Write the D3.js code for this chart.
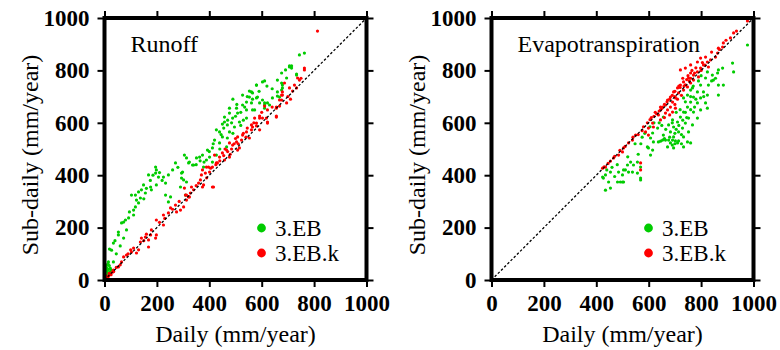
<!DOCTYPE html>
<html>
<head>
<meta charset="utf-8">
<script src="https://cdn.jsdelivr.net/npm/d3@7"></script>
<style>
  html, body { margin: 0; padding: 0; background: #fff; }
  svg { display: block; }
</style>
</head>
<body>
<svg id="chart" width="780" height="350"></svg>
<script>
// Axis ticks shared by both panels (mm/year)
const tickValues = [0, 200, 400, 600, 800, 1000];
const seriesNames = ["3.EB", "3.EB.k"];
const panelTitles = ["Runoff", "Evapotranspiration"];

// Runoff, 3.EB: [daily, sub-daily]
const runoffEB = [
  [5,20],[8,35],[10,45],[12,28],[15,40],[18,55],[20,30],[6,50],[14,60],[22,45],[3,15],[25,38],[10,12],[17,22],[9,58],[4,42],
  [15,69],[34,69],[19,118],[27,114],[34,141],[53,183],[53,172],[84,191],[73,160],[65,218],[80,229],[111,248],[118,279],
  [130,294],[137,313],[122,305],[118,324],[103,324],[130,336],[141,344],[156,332],[149,363],[176,355],[168,401],[195,408],
  [198,420],[206,393],[198,363],[179,344],[225,393],[244,401],[233,370],[233,324],[252,317],[244,298],[271,447],[290,355],
  [302,382],[294,408],[313,374],[321,447],[340,439],[195,431],[111,267],[92,237],[73,221],[309,324],[378,431],
  [706,813],[714,817],[676,790],[733,782],[695,771],[603,756],[580,744],[561,718],[527,706],[553,698],[584,698],[542,679],
  [561,676],[527,668],[504,656],[477,656],[477,637],[508,637],[542,649],[573,649],[489,618],[515,603],[542,618],[458,622],
  [458,603],[469,592],[496,584],[427,573],[439,565],[477,565],[450,546],[420,534],[469,542],[439,523],[466,508],[412,504],
  [393,496],[374,477],[363,469],[351,466],[401,469],[427,477],[389,458],[412,450],[313,466],[324,450],[336,439],[305,477],
  [298,412],[294,389],[592,676],[611,668],[622,676],[668,698],[679,733],[676,752],[660,718],
  [763,866],[744,859],[706,817],[714,809],[691,802],[733,786],[660,763],[611,760],[580,744],[679,744],[553,721],[565,714],
  [676,725],[660,702],[580,695],[603,687],[641,695],[630,668],[611,676],[565,649],[611,656],
  [485,600],[500,625],[520,640],[535,660],[455,580],[445,555],[490,560],[520,590],[530,610],[400,490],[415,520],[440,500],
  [380,450],[365,455],[350,440],[505,670],[490,690],[470,610],[450,595],[545,700],[565,690],[590,720],[620,740],[640,730],
  [150,310],[160,350],[175,380],[185,400],[210,410],[220,380],[260,420],[280,430],[60,130],[45,100],[40,150],[95,260]
];

// Runoff, 3.EB.k: [daily, sub-daily]
const runoffEBk = [
  [5,5],[10,12],[15,14],[20,22],[25,20],[12,8],[30,30],[18,25],[8,15],[35,32],
  [34,38],[53,50],[65,69],[73,88],[84,95],[103,107],[111,122],[122,103],[130,115],[137,145],[141,160],[156,164],[168,153],
  [176,172],[195,160],[198,172],[179,191],[168,126],[198,229],[225,210],[225,248],[244,256],[252,275],[271,286],[275,260],
  [290,267],[302,279],[313,305],[321,317],[309,324],[328,332],[340,344],[359,370],[378,363],[366,382],[385,408],[405,427],
  [416,355],[397,431],[427,447],
  [763,809],[737,771],[725,744],[679,718],[676,706],[668,687],[656,660],[622,603],[618,618],[656,622],[592,618],[580,599],
  [565,584],[561,573],[542,565],[553,542],[527,553],[523,534],[508,546],[504,527],[489,515],[477,523],[515,504],[508,496],
  [466,496],[450,485],[439,469],[477,469],[420,477],[458,458],[431,447],[412,431],[389,431],[374,420],[401,412],[370,401],
  [412,355],[374,355],[332,355],[305,351],[313,324],[324,317],[592,573],
  [813,950],[763,802],[744,763],[733,733],[706,733],[718,721],[687,752],[679,706],[676,687],[695,676],[668,664],[656,656],
  [656,626],[622,649],[611,664],[622,599],[603,618],[592,626],[573,618],[580,588],[561,592],
  [455,475],[470,490],[485,500],[495,520],[530,560],[545,580],[500,540],[440,455],[425,440],[460,500],[480,480],[510,520],
  [540,545],[570,600],[600,640],[640,660],[700,700],[710,690],[750,770],[90,100],[100,115],[150,150],[160,175],[210,220],
  [230,235],[260,270],[285,300],[350,360],[390,390],[45,48],[60,58]
];

// Evapotranspiration, 3.EB: [daily, sub-daily]
const evapEB = [
  [977,897],[920,828],[924,794],[882,809],[866,802],[863,790],[843,782],[824,794],[847,763],[817,771],[828,744],[866,744],
  [885,744],[866,706],[798,744],[809,718],[786,718],[824,706],[798,695],[771,698],[760,679],[786,676],[817,676],[824,656],
  [798,649],[771,641],[748,660],[733,641],[721,622],[752,618],[786,618],[710,603],[740,599],[767,592],[695,584],[729,580],
  [683,565],[714,565],[752,565],[656,553],[695,546],[733,546],[653,534],[664,534],[676,534],[691,534],[702,531],[714,531],
  [637,527],[683,523],[710,523],[672,508],[695,504],[733,508],[748,527],[760,523],[634,580],[615,561],[607,542],[618,527],
  [599,504],[615,496],[607,477],[595,508],[557,450],[531,450],[542,439],[519,439],[504,420],[485,412],[500,401],[523,412],
  [538,412],[557,408],[504,374],[492,374],[569,389],[454,412],[435,401],[427,389],[447,374],[656,622],[691,611],[676,592],
  [733,695],[748,706],[760,725],[767,733],[435,343],[454,351],[481,374],[500,374],[424,393],[569,382],[569,431],[511,420],
  [720,650],[740,680],[705,640],[690,600],[770,740],[790,760],[800,780],[760,700],[745,620],[730,610],[700,560],[680,545],
  [660,540],[645,530],[700,520],[725,520],[690,515],[665,575],[650,590],[640,600],[620,600],[605,585],[585,560],[570,520],
  [560,480],[520,470],[480,440],[460,430],[440,420],[470,395],[548,520],[575,545],[780,690],[810,700],[840,760],[855,770],
  [760,650],[775,660],[740,640],[715,590],[705,575],[725,555]
];

// Evapotranspiration, 3.EB.k: [daily, sub-daily]
const evapEBk = [
  [977,989],[924,943],[912,924],[885,905],[882,889],[866,885],[863,866],[855,851],[836,840],[824,832],[809,821],[828,813],
  [798,809],[786,794],[771,782],[760,790],[790,775],[752,771],[771,763],[733,756],[760,752],[721,744],[748,737],[710,733],
  [733,725],[695,718],[714,714],[683,698],[702,695],[672,687],[691,679],[664,668],[683,660],[653,660],[672,649],[645,649],
  [664,637],[637,630],[691,641],[702,656],[645,611],[615,599],[618,584],[599,580],[588,565],[599,553],[550,553],[538,534],
  [523,523],[504,504],[500,489],[485,477],[466,466],[454,454],[435,431],[424,427],[569,420],[569,447],[721,802],[740,809],
  [760,821],[786,832],[798,847],[817,851],
  [750,780],[745,765],[730,770],[715,740],[700,720],[690,705],[680,690],[670,680],[660,670],[650,655],[640,645],[630,635],
  [620,625],[610,620],[700,700],[720,735],[735,740],[765,800],[780,810],[805,830],[840,870],[870,880],[895,915],[935,950],
  [660,620],[680,630],[700,670],[710,690],[725,705],[740,745],[755,760],[560,555],[575,570],[580,585],[540,545],[510,510],
  [490,495],[470,472],[445,445],[430,432],[595,600],[605,612],[625,640],[645,660],[760,770],[775,790],[800,800],[815,820]
];

const svg = d3.select("#chart");
const font = "'Liberation Serif', 'Times New Roman', serif";

const panels = [
  { left: 104.5, title: panelTitles[0], series: [runoffEB, runoffEBk] },
  { left: 491.5, title: panelTitles[1], series: [evapEB, evapEBk] }
];
const plotTop = 18, plotSize = 262;
const colors = ["#00cc00", "#ff0000"];

panels.forEach(p => {
  const g = svg.append("g").attr("transform", `translate(${p.left},${plotTop})`);
  const x = d3.scaleLinear().domain([0, 1000]).range([0, plotSize]);
  const y = d3.scaleLinear().domain([0, 1000]).range([plotSize, 0]);

  // points: 3.EB first, 3.EB.k drawn on top
  p.series.forEach((data, i) => {
    g.append("g").selectAll("circle").data(data).join("circle")
      .attr("cx", d => x(d[0]))
      .attr("cy", d => y(d[1]))
      .attr("r", 1.6)
      .attr("fill", colors[i]);
  });

  // 1:1 line
  g.append("line")
    .attr("x1", x(0)).attr("y1", y(0))
    .attr("x2", x(1000)).attr("y2", y(1000))
    .attr("stroke", "#000").attr("stroke-width", 1.3)
    .attr("stroke-dasharray", "2.5,2");

  // axes with outward ticks on all four sides
  const styleAxis = (sel, showLabels) => {
    sel.select(".domain").remove();
    sel.selectAll(".tick line").attr("stroke", "#000").attr("stroke-width", 2);
    sel.selectAll(".tick text")
      .attr("font-family", font).attr("font-weight", "bold")
      .attr("font-size", 23).attr("fill", "#000")
      .style("display", showLabels ? null : "none");
  };
  g.append("g").attr("transform", `translate(0,${plotSize})`)
    .call(d3.axisBottom(x).tickValues(tickValues).tickSize(7).tickPadding(8).tickFormat(d3.format("d")))
    .call(s => styleAxis(s, true));
  g.append("g")
    .call(d3.axisLeft(y).tickValues(tickValues).tickSize(7).tickPadding(8).tickFormat(d3.format("d")))
    .call(s => styleAxis(s, true));
  g.append("g")
    .call(d3.axisTop(x).tickValues(tickValues).tickSize(7))
    .call(s => styleAxis(s, false));
  g.append("g").attr("transform", `translate(${plotSize},0)`)
    .call(d3.axisRight(y).tickValues(tickValues).tickSize(7))
    .call(s => styleAxis(s, false));

  // frame
  g.append("rect")
    .attr("x", 0).attr("y", 0).attr("width", plotSize).attr("height", plotSize)
    .attr("fill", "none").attr("stroke", "#000").attr("stroke-width", 4);

  // panel title
  g.append("text")
    .attr("x", 26).attr("y", 34)
    .attr("font-family", font).attr("font-size", 24).attr("fill", "#000")
    .text(p.title);

  // legend
  seriesNames.forEach((name, i) => {
    const ly = 210 + i * 25;
    g.append("circle").attr("cx", 157).attr("cy", ly).attr("r", 4.4).attr("fill", colors[i]);
    g.append("text")
      .attr("x", 170.5).attr("y", ly + 8)
      .attr("font-family", font).attr("font-size", 23).attr("fill", "#000")
      .text(name);
  });

  // axis titles
  g.append("text")
    .attr("x", plotSize / 2).attr("y", plotSize + 61.5)
    .attr("text-anchor", "middle")
    .attr("font-family", font).attr("font-size", 24).attr("fill", "#000")
    .text("Daily (mm/year)");
  g.append("text")
    .attr("transform", `translate(-67,${plotSize / 2 + 6}) rotate(-90)`)
    .attr("text-anchor", "middle")
    .attr("font-family", font).attr("font-size", 24).attr("fill", "#000")
    .text("Sub-daily (mm/year)");
});
</script>
</body>
</html>
